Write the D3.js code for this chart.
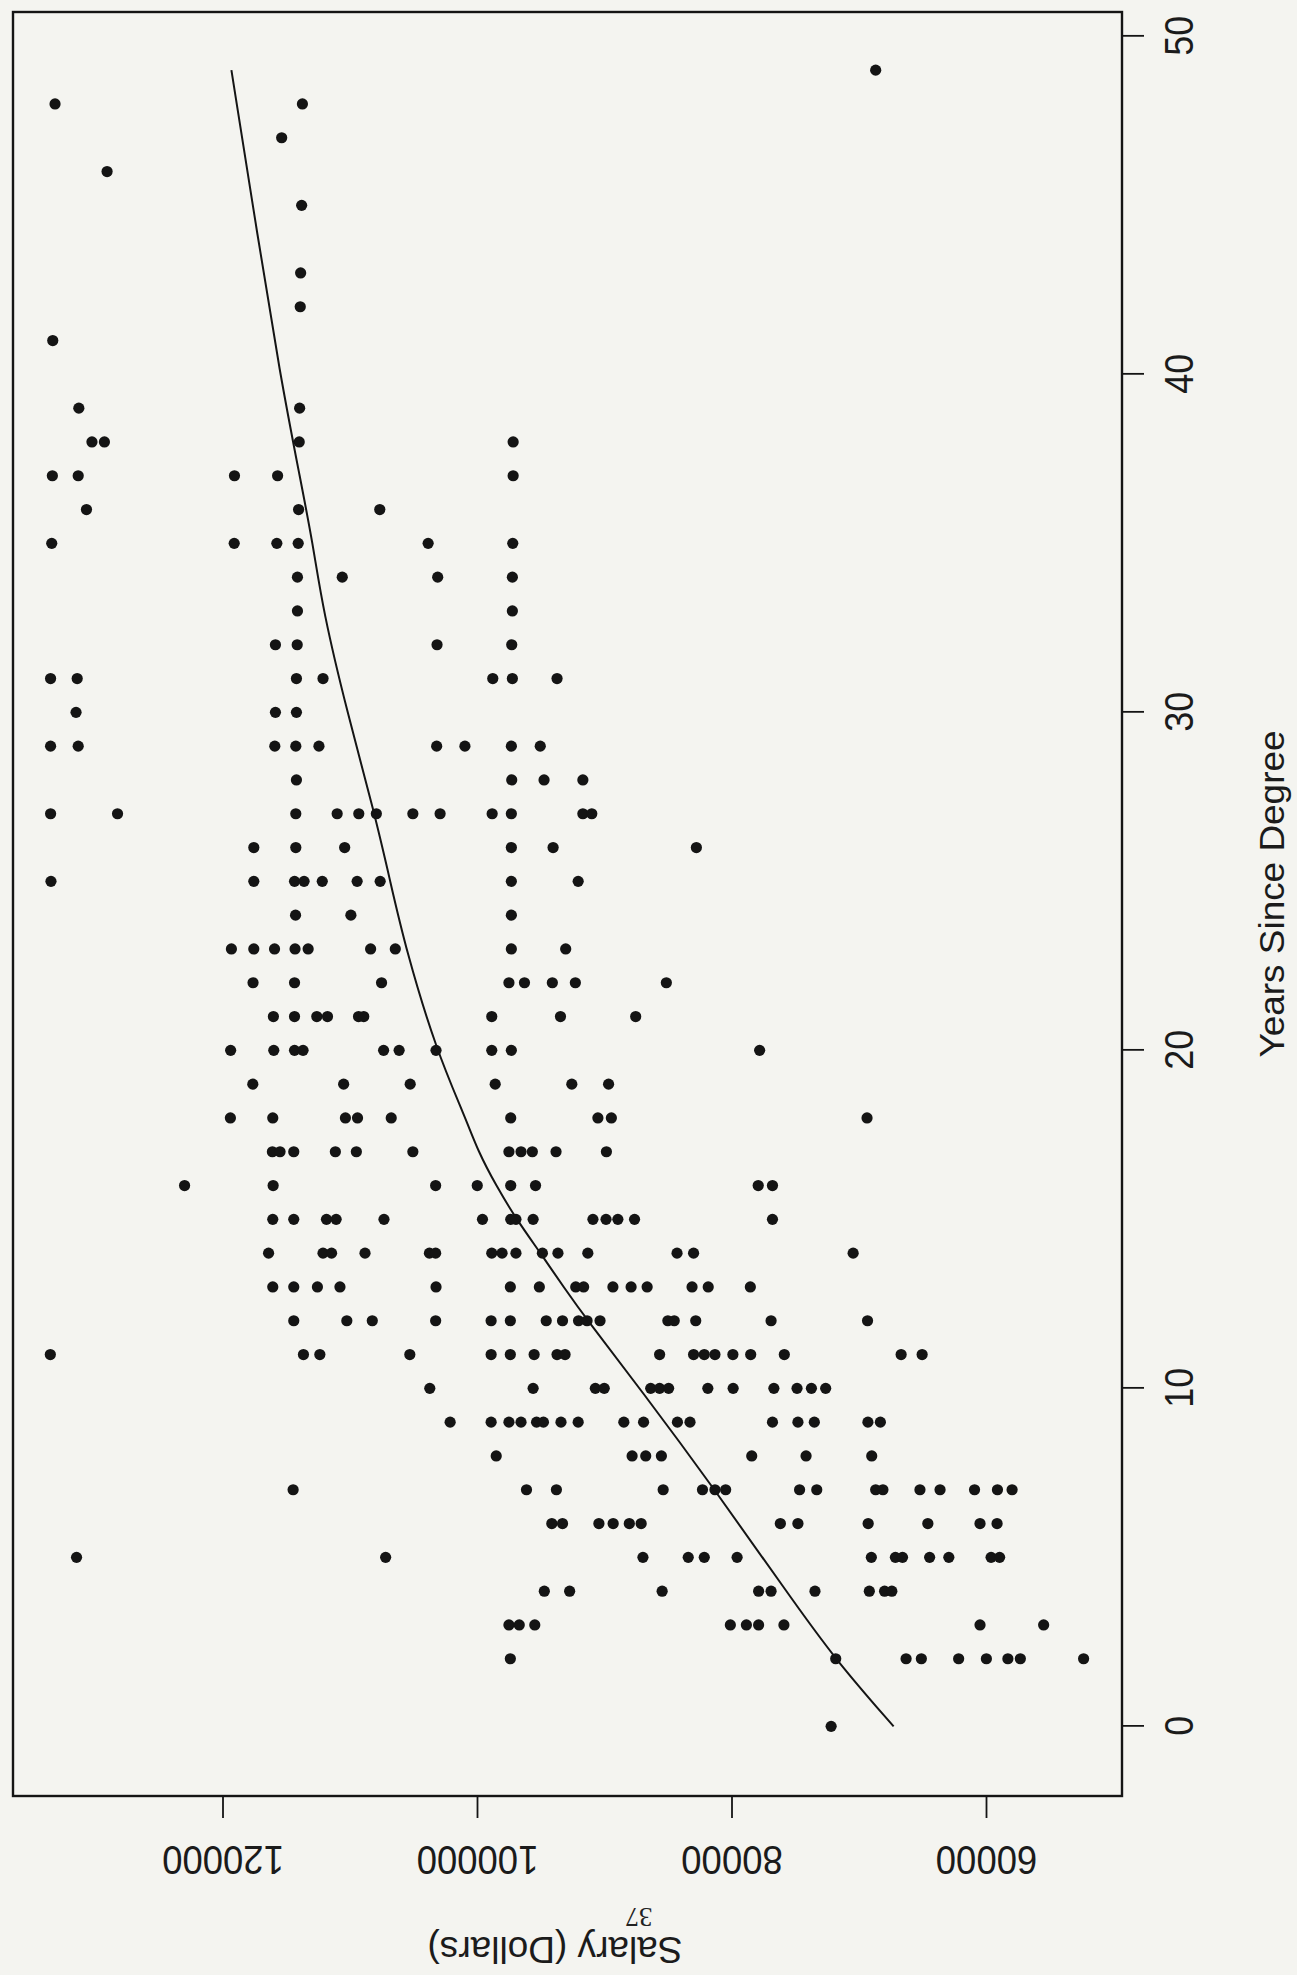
<!DOCTYPE html>
<html>
<head>
<meta charset="utf-8">
<script src="https://cdn.jsdelivr.net/npm/d3@7"></script>
<style>
  html, body { margin: 0; padding: 0; background: #f4f4f0; }
  svg { display: block; }
</style>
</head>
<body>
<svg id="chart" width="1297" height="1975"></svg>
<script>
// Axis ticks
const yearTicks = [0, 10, 20, 30, 40, 50];
const salaryTicks = [60000, 80000, 100000, 120000];

// Faculty salary observations: years since degree and salary (dollars), row by row
const yearsSinceDegree = [
  49,
  48, 48,
  47,
  46,
  45,
  43,
  42,
  41,
  39, 39,
  38, 38, 38, 38,
  37, 37, 37, 37, 37,
  36, 36, 36,
  35, 35, 35, 35, 35, 35,
  34, 34, 34, 34,
  33, 33,
  32, 32, 32, 32,
  31, 31, 31, 31, 31, 31, 31,
  30, 30, 30,
  29, 29, 29, 29, 29, 29, 29, 29, 29,
  28, 28, 28, 28,
  27, 27, 27, 27, 27, 27, 27, 27, 27, 27, 27, 27,
  26, 26, 26, 26, 26, 26,
  25, 25, 25, 25, 25, 25, 25, 25, 25,
  24, 24, 24,
  23, 23, 23, 23, 23, 23, 23, 23, 23,
  22, 22, 22, 22, 22, 22, 22, 22,
  21, 21, 21, 21, 21, 21, 21, 21, 21,
  20, 20, 20, 20, 20, 20, 20, 20, 20, 20,
  19, 19, 19, 19, 19, 19,
  18, 18, 18, 18, 18, 18, 18, 18, 18,
  17, 17, 17, 17, 17, 17, 17, 17, 17, 17, 17,
  16, 16, 16, 16, 16, 16, 16, 16,
  15, 15, 15, 15, 15, 15, 15, 15, 15, 15, 15, 15, 15, 15,
  14, 14, 14, 14, 14, 14, 14, 14, 14, 14, 14, 14, 14, 14, 14,
  13, 13, 13, 13, 13, 13, 13, 13, 13, 13, 13, 13, 13, 13, 13,
  12, 12, 12, 12, 12, 12, 12, 12, 12, 12, 12, 12, 12, 12, 12, 12,
  11, 11, 11, 11, 11, 11, 11, 11, 11, 11, 11, 11, 11, 11, 11, 11, 11, 11,
  10, 10, 10, 10, 10, 10, 10, 10, 10, 10, 10, 10, 10,
  9, 9, 9, 9, 9, 9, 9, 9, 9, 9, 9, 9, 9, 9, 9, 9, 9,
  8, 8, 8, 8, 8, 8, 8,
  7, 7, 7, 7, 7, 7, 7, 7, 7, 7, 7, 7, 7, 7, 7, 7,
  6, 6, 6, 6, 6, 6, 6, 6, 6, 6, 6, 6,
  5, 5, 5, 5, 5, 5, 5, 5, 5, 5, 5, 5, 5,
  4, 4, 4, 4, 4, 4, 4, 4, 4,
  3, 3, 3, 3, 3, 3, 3, 3, 3,
  2, 2, 2, 2, 2, 2, 2, 2, 2,
  0
];
const salaryDollars = [
  68670,
  133160, 113720,
  115350,
  129070,
  113780,
  113860,
  113890,
  133340,
  131290, 113940,
  130260, 129280, 113970, 97160,
  133370, 131340, 119060, 115670, 97160,
  130690, 114020, 107640,
  133420, 119080, 115730, 114050, 103840, 97190,
  114110, 110590, 103090, 97220,
  114110, 97220,
  115840, 114130, 103140, 97270,
  133510, 131420, 114190, 112100, 98760, 97220, 93710,
  131510, 115840, 114190,
  133510, 131340, 115890, 114240, 112420, 103170, 100950, 97300, 95030,
  114190, 97270, 94730, 91680,
  133510, 128250, 114240, 110990, 109290, 107910, 105040, 102900, 98810, 97300, 91680, 90980,
  117540, 114240, 110400, 97300, 94020, 82760,
  133480, 117540, 114340, 113590, 112160, 109420, 107610, 97300, 92050,
  114260, 109910, 97300,
  119300, 117540, 115910, 114300, 113270, 108360, 106420, 97300, 93030,
  117600, 114340, 107500, 97490, 96270, 94080, 92270, 85120,
  116000, 114340, 112590, 111750, 109310, 108900, 98840, 93440, 87530,
  119360, 115970, 114340, 113670, 107340, 106120, 103220, 98840, 97300, 77790,
  117620, 110480, 105250, 98570, 92550, 89660,
  119380, 116050, 110340, 109390, 106740, 97350, 90500, 89440, 69350,
  116080, 115480, 114400, 111130, 109480, 105040, 97490, 96540, 95650, 93790, 89830,
  122980, 116020, 103250, 99980, 97350, 95400, 77900, 76780,
  116050, 114400, 111830, 111070, 107310, 99570, 97350, 96940, 95590, 90890, 89860, 88930, 87620, 76780,
  116380, 112100, 111430, 108800, 103740, 103250, 98840, 98030, 96940, 94860, 93640, 91290, 84280, 82980, 70440,
  116050, 114400, 112540, 110770, 103220, 97380, 95100, 92240, 91620, 89320, 87890, 86630, 83100, 81830, 78520,
  114400, 110230, 108230, 103250, 98890, 97380, 94560, 93280, 92020, 91350, 90330, 85000, 84500, 82810, 76890, 69310,
  133530, 113640, 112350, 105280, 98890, 97380, 95510, 93710, 93080, 85650, 82980, 82140, 81300, 79890, 78490, 75850, 66670, 65020,
  103710, 95590, 90700, 90000, 86350, 85650, 84940, 81860, 79870, 76670, 74850, 73720, 72600,
  102110, 98890, 97490, 96540, 95320, 94780, 93400, 92050, 88460, 86910, 84250, 83260, 76780, 74780, 73490, 69280, 68300,
  98490, 87810, 86740, 85510, 78410, 74140, 68980,
  114450, 96110, 93760, 85370, 82280, 81300, 80460, 74650, 73300, 68670, 68100, 65190, 63610, 60900, 59100, 57950,
  94120, 93280, 90420, 89300, 88030, 87100, 76160, 74780, 69260, 64570, 60470, 59130,
  131470, 107180, 86960, 83400, 82140, 79560, 69010, 67120, 66560, 64430, 62920, 59600, 58930,
  94710, 92720, 85450, 77870, 76890, 73440, 69170, 67970, 67400,
  97490, 96680, 95460, 80090, 78830, 77870, 75880, 60470, 55470,
  97380, 71810, 66280, 65080, 62150, 59970, 58280, 57300, 52330,
  72170
];

// Smooth trend of salary against years since degree
const fitYears  = [0, 2, 4, 7, 10, 12, 13, 14, 15, 16, 17, 18, 20, 23, 25, 27, 30, 33, 35, 37, 40, 44, 49];
const fitSalary = [67260, 71900, 75700, 81300, 87200, 91300, 93200, 95000, 96900, 98500, 99900, 100900,
                   103200, 105600, 106820, 108040, 110200, 112100, 112900, 113940, 115480, 117200, 119300];

const INK = "#141414";
const SANS = "'Liberation Sans', Arial, Helvetica, sans-serif";

const svg = d3.select("#chart");
svg.append("rect").attr("width", 1297).attr("height", 1975).attr("fill", "#f4f4f0");

// The panel is laid out upright, then turned a quarter turn counter-clockwise on the page
const W = 1784, H = 1109;
const x = d3.scaleLinear().domain([-2.06, 50.72]).range([0, W]);
const y = d3.scaleLinear().domain([49312, 136464]).range([H, 0]);

const panel = svg.append("g").attr("transform", "translate(13,1796) rotate(-90)");

// Years axis
const xAxis = panel.append("g")
  .attr("transform", `translate(0,${H})`)
  .call(d3.axisBottom(x).tickValues(yearTicks).tickSize(22).tickPadding(21).tickFormat(d3.format("d")));
xAxis.select(".domain").remove();
xAxis.selectAll(".tick line").attr("stroke", INK).attr("stroke-width", 1.8);
xAxis.selectAll(".tick text")
  .attr("font-family", SANS).attr("font-size", 40).attr("fill", "#1b1b1b")
  .attr("textLength", d => String(d).length * 20)
  .attr("lengthAdjust", "spacingAndGlyphs");

// Salary axis, labels set parallel to the axis
const yAxis = panel.append("g")
  .call(d3.axisLeft(y).tickValues(salaryTicks).tickSize(22).tickFormat(d3.format("d")));
yAxis.select(".domain").remove();
yAxis.selectAll(".tick line").attr("stroke", INK).attr("stroke-width", 1.8);
yAxis.selectAll(".tick text").remove();
yAxis.selectAll(".tick").append("text")
  .attr("transform", "translate(-64,0) rotate(-90)")
  .attr("text-anchor", "middle")
  .attr("dy", "0.35em")
  .attr("font-family", SANS).attr("font-size", 40).attr("fill", "#1b1b1b")
  .attr("textLength", d => String(d).length * 20.3)
  .attr("lengthAdjust", "spacingAndGlyphs")
  .text(d => d3.format("d")(d));

// Axis titles
panel.append("text")
  .attr("x", 902).attr("y", H + 150).attr("dy", "0.35em")
  .attr("text-anchor", "middle")
  .attr("font-family", SANS).attr("font-size", 35).attr("fill", "#1b1b1b")
  .attr("textLength", 327).attr("lengthAdjust", "spacingAndGlyphs")
  .text("Years Since Degree");

panel.append("text")
  .attr("transform", "translate(-154,542) rotate(-90)")
  .attr("dy", "0.35em")
  .attr("text-anchor", "middle")
  .attr("font-family", SANS).attr("font-size", 37).attr("fill", "#1b1b1b")
  .text("Salary (Dollars)");

// Points
panel.append("g")
  .selectAll("circle")
  .data(d3.range(yearsSinceDegree.length))
  .join("circle")
  .attr("cx", i => x(yearsSinceDegree[i]))
  .attr("cy", i => y(salaryDollars[i]))
  .attr("r", 5.6)
  .attr("fill", INK);

// Trend curve
const trend = d3.line()
  .x(i => x(fitYears[i]))
  .y(i => y(fitSalary[i]))
  .curve(d3.curveBasis);
panel.append("path")
  .attr("d", trend(d3.range(fitYears.length)))
  .attr("fill", "none")
  .attr("stroke", INK)
  .attr("stroke-width", 2);

// Plot box
panel.append("rect")
  .attr("x", 0).attr("y", 0).attr("width", W).attr("height", H)
  .attr("fill", "none").attr("stroke", INK).attr("stroke-width", 2.4);

// Page number
svg.append("text")
  .attr("transform", "translate(639,1917) rotate(180)")
  .attr("text-anchor", "middle")
  .attr("dy", "0.35em")
  .attr("font-family", "'Liberation Serif', 'Times New Roman', serif")
  .attr("font-size", 27).attr("fill", "#222")
  .text("37");
</script>
</body>
</html>
